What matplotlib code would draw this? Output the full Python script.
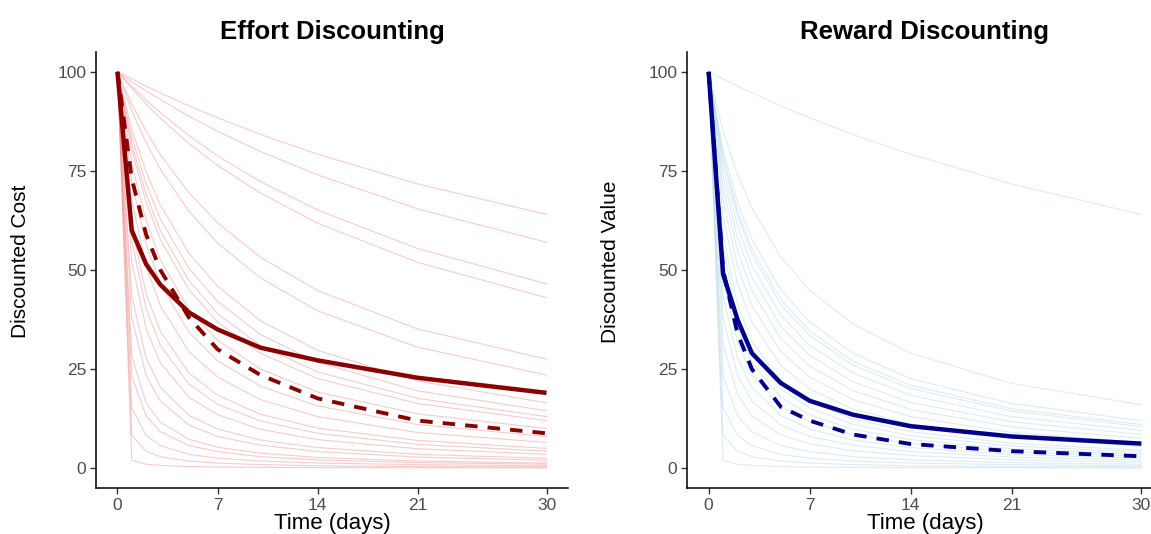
import matplotlib
matplotlib.use("Agg")
import matplotlib.pyplot as plt

plt.rcParams["font.family"] = ["Liberation Sans", "DejaVu Sans"]

OUT_PNG = "out.png"

# sampled delays (days)
days = [0, 1, 2, 3, 5, 7, 10, 14, 21, 30]

# --- Effort discounting: individual participants (discounted cost, %) ---
effort_subjects = [
    [100, 98.2, 96.4, 94.7, 91.4, 88.4, 84.2, 79.2, 71.7, 64.0],
    [100, 97.5, 95.2, 93.0, 88.8, 85.0, 79.9, 74.0, 65.4, 57.0],
    [100, 96.3, 92.9, 89.7, 83.9, 78.8, 72.3, 65.1, 55.4, 46.5],
    [100, 95.8, 91.9, 88.3, 81.9, 76.4, 69.4, 61.8, 51.9, 43.0],
    [100, 91.9, 85.1, 79.1, 69.5, 61.9, 53.2, 44.8, 35.1, 27.5],
    [100, 90.2, 82.2, 75.4, 64.8, 56.8, 48.0, 39.7, 30.5, 23.5],
    [100, 85.6, 74.8, 66.4, 54.2, 45.9, 37.2, 29.7, 22.0, 16.5],
    [100, 83.6, 71.8, 62.9, 50.4, 42.1, 33.7, 26.7, 19.5, 14.5],
    [100, 81.8, 69.2, 59.9, 47.3, 39.0, 30.9, 24.3, 17.6, 13.0],
    [100, 80.4, 67.2, 57.7, 45.0, 36.9, 29.0, 22.6, 16.3, 12.0],
    [100, 76.9, 62.5, 52.6, 40.0, 32.3, 25.0, 19.2, 13.7, 10.0],
    [100, 72.3, 56.6, 46.5, 34.3, 27.1, 20.7, 15.7, 11.0, 8.0],
    [100, 67.6, 51.0, 41.0, 29.4, 23.0, 17.3, 13.0, 9.0, 6.5],
    [100, 61.2, 44.1, 34.5, 24.0, 18.4, 13.6, 10.1, 7.0, 5.0],
    [100, 57.4, 40.3, 31.0, 21.2, 16.1, 11.9, 8.8, 6.0, 4.3],
    [100, 52.1, 35.2, 26.6, 17.9, 13.5, 9.8, 7.2, 4.9, 3.5],
    [100, 43.5, 27.8, 20.4, 13.3, 9.9, 7.1, 5.2, 3.5, 2.5],
    [100, 38.0, 23.4, 16.9, 10.9, 8.0, 5.8, 4.2, 2.8, 2.0],
    [100, 28.3, 16.5, 11.6, 7.3, 5.3, 3.8, 2.7, 1.8, 1.3],
    [100, 23.3, 13.2, 9.2, 5.7, 4.2, 2.9, 2.1, 1.4, 1.0],
    [100, 15.3, 8.3, 5.7, 3.5, 2.5, 1.8, 1.3, 0.9, 0.6],
    [100, 8.3, 4.3, 2.9, 1.8, 1.3, 0.9, 0.6, 0.4, 0.3],
    [100, 2.0, 1.0, 0.7, 0.4, 0.3, 0.2, 0.15, 0.1, 0.07],
]
effort_mean = [100, 60, 51.5, 46.3, 39.3, 35, 30.4, 27.2, 22.8, 19]
effort_group = [100, 73, 59, 50, 38, 30, 23.5, 17.6, 12, 8.8]

# --- Reward discounting: individual participants (discounted value, %) ---
reward_subjects = [
    [100, 98.2, 96.4, 94.7, 91.4, 88.4, 84.2, 79.2, 71.7, 64.0],
    [100, 85.1, 74.1, 65.6, 53.3, 44.9, 36.4, 29.0, 21.4, 16.0],
    [100, 80.4, 67.2, 57.7, 45.0, 36.9, 29.0, 22.6, 16.3, 12.0],
    [100, 78.8, 65.0, 55.3, 42.6, 34.6, 27.0, 20.9, 15.0, 11.0],
    [100, 77.9, 63.8, 54.0, 41.3, 33.5, 26.0, 20.1, 14.4, 10.5],
    [100, 75.9, 61.2, 51.2, 38.6, 31.0, 24.0, 18.4, 13.0, 9.5],
    [100, 73.6, 58.2, 48.2, 35.8, 28.5, 21.8, 16.6, 11.7, 8.5],
    [100, 70.9, 54.9, 44.8, 32.7, 25.8, 19.6, 14.8, 10.4, 7.5],
    [100, 67.6, 51.0, 41.0, 29.4, 23.0, 17.3, 13.0, 9.0, 6.5],
    [100, 63.6, 46.6, 36.8, 25.9, 20.0, 14.9, 11.1, 7.7, 5.5],
    [100, 58.6, 41.4, 32.0, 22.0, 16.8, 12.4, 9.2, 6.3, 4.5],
    [100, 55.6, 38.5, 29.4, 20.0, 15.2, 11.1, 8.2, 5.6, 4.0],
    [100, 52.1, 35.2, 26.6, 17.9, 13.5, 9.8, 7.2, 4.9, 3.5],
    [100, 48.1, 31.7, 23.6, 15.7, 11.7, 8.5, 6.2, 4.2, 3.0],
    [100, 43.5, 27.8, 20.4, 13.3, 9.9, 7.1, 5.2, 3.5, 2.5],
    [100, 38.0, 23.4, 16.9, 10.9, 8.0, 5.8, 4.2, 2.8, 2.0],
    [100, 31.4, 18.6, 13.2, 8.4, 6.1, 4.4, 3.2, 2.1, 1.5],
    [100, 23.3, 13.2, 9.2, 5.7, 4.2, 2.9, 2.1, 1.4, 1.0],
    [100, 15.3, 8.3, 5.7, 3.5, 2.5, 1.8, 1.3, 0.9, 0.6],
    [100, 8.3, 4.3, 2.9, 1.8, 1.3, 0.9, 0.6, 0.4, 0.3],
    [100, 2.0, 1.0, 0.7, 0.4, 0.3, 0.2, 0.15, 0.1, 0.07],
]
reward_mean = [100, 49, 37.5, 29, 21.5, 17, 13.5, 10.6, 8, 6.2]
reward_group = [100, 50, 34, 25, 15.5, 12, 8.5, 6.1, 4.3, 3]

PANELS = [
    ("Effort Discounting", "Discounted Cost", effort_subjects, effort_mean, effort_group,
     "#ec7577", 0.38, "#8B0000"),
    ("Reward Discounting", "Discounted Value", reward_subjects, reward_mean, reward_group,
     "#9cc8dc", 0.35, "#00008B"),
]
# axes boxes in figure fractions (right panel runs past the image edge, like the source)
BOXES = [
    [96 / 1151, 1 - 488 / 534, 472 / 1151, 436 / 534],
    [687 / 1151, 1 - 488 / 534, 476 / 1151, 436 / 534],
]


def main():
    fig = plt.figure(figsize=(11.51, 5.34), dpi=100)
    for (title, ylab, subs, mean_v, grp_v, thin_c, thin_a, dark_c), box in zip(PANELS, BOXES):
        ax = fig.add_axes(box)
        for s in subs:
            ax.plot(days, s, color=thin_c, alpha=thin_a, lw=0.8, zorder=1)
        ax.plot(days, mean_v, color=dark_c, lw=3.2, solid_capstyle="butt", zorder=3)
        ax.plot(days, grp_v, color=dark_c, lw=2.8, ls=(0, (3.2, 2.6)), zorder=3)

        ax.set_xlim(-1.5, 31.5)
        ax.set_ylim(-5, 105)
        ax.set_xticks([0, 7, 14, 21, 30])
        ax.set_yticks([0, 25, 50, 75, 100])
        ax.tick_params(axis="both", direction="out", length=4, width=1, color="#333333",
                       labelsize=12.5, labelcolor="#4D4D4D", pad=3)
        for side in ("top", "right"):
            ax.spines[side].set_visible(False)
        for side in ("left", "bottom"):
            ax.spines[side].set_linewidth(1.1)
            ax.spines[side].set_color("black")

        ax.set_title(title, fontsize=18.5, fontweight="bold", pad=9)
        ax.set_xlabel("Time (days)", fontsize=16)
        ax.set_ylabel(ylab, fontsize=15)
        ax.xaxis.set_label_coords(0.5, -0.058)
        ax.yaxis.set_label_coords(-0.14, 0.52)

    fig.savefig(OUT_PNG, dpi=100)


if __name__ == "__main__":
    main()
